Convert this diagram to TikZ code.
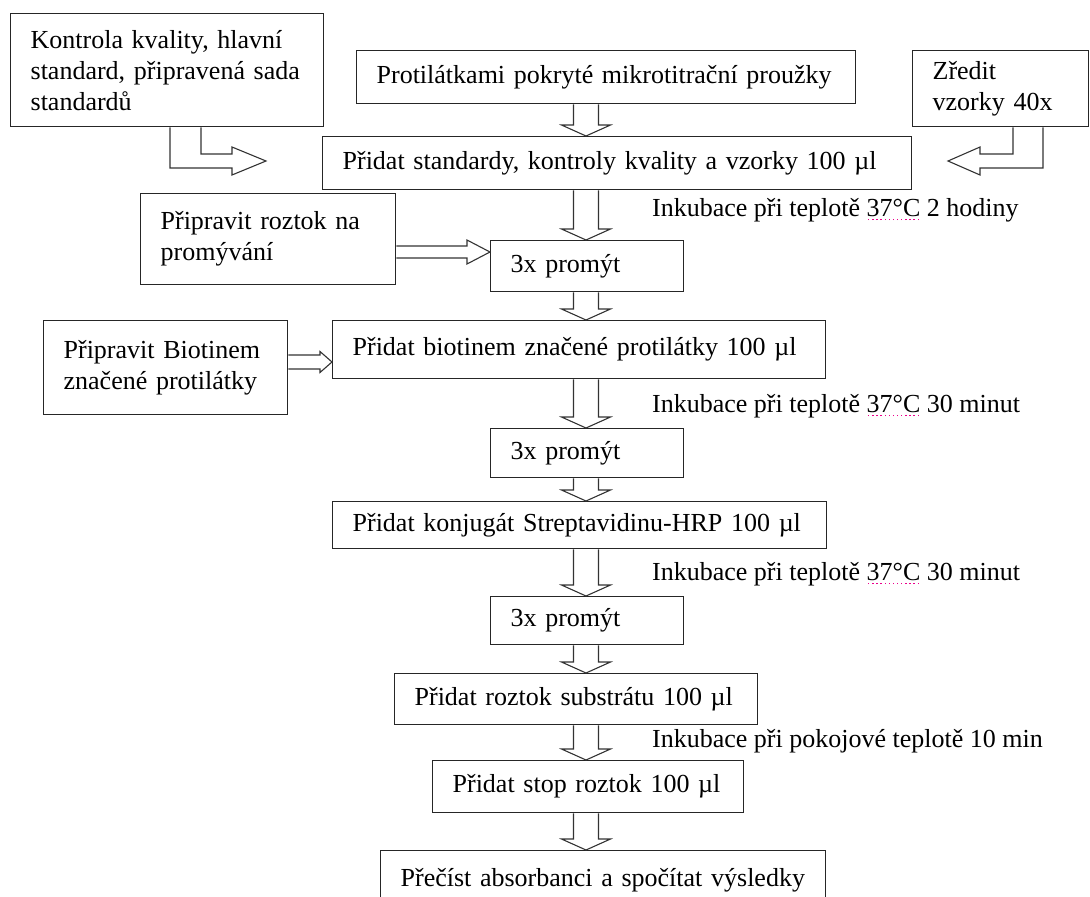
\documentclass[tikz,border=0pt]{standalone}
\usepackage{fontspec}
\setmainfont{Liberation Serif}
\usetikzlibrary{calc}

\tikzset{
  stepbox/.style={draw=black!85,line width=1.3pt,anchor=north west,align=left,
    inner xsep=21pt,inner ysep=0pt,font=\fontsize{26}{31}\selectfont},
  inclabel/.style={anchor=base west,inner sep=0pt,font=\fontsize{26}{31}\selectfont},
  hollowarrow/.style={draw=black!80,line width=1.1pt,line join=miter}
}

% dotted spelling mark under a word
\newcommand\spellchk[1]{\setbox0=\hbox{#1}\rlap{\color{magenta}\raisebox{-4pt}[0pt][0pt]{\hbox to \wd0{\xleaders\hbox to 4pt{\hss\rule{1.3pt}{1.3pt}\hss}\hfil}}}\box0\relax}

% hollow arrow down the main column
\newcommand\vblk[2]{\draw[hollowarrow] let \p1=(#1.south), \p2=(#2.north), \p3=(axis) in
  (\x3-12.5pt,\y1) -- (\x3-12.5pt,\y2+11pt) -- (\x3-24.5pt,\y2+11pt) -- (\x3,\y2)
  -- (\x3+24.5pt,\y2+11pt) -- (\x3+12.5pt,\y2+11pt) -- (\x3+12.5pt,\y1);}

% hollow arrow to the right: from, to, level, shaft, head, length
\newcommand\hblk[6]{\draw[hollowarrow] let \p1=(#1.east), \p2=(#2.west), \p3=(#3) in
  (\x1,\y3+#4pt) -- (\x2-#6pt,\y3+#4pt) -- (\x2-#6pt,\y3+#5pt) -- (\x2,\y3)
  -- (\x2-#6pt,\y3-#5pt) -- (\x2-#6pt,\y3-#4pt) -- (\x1,\y3-#4pt);}

\begin{document}
\begin{tikzpicture}[x=1pt,y=-1pt]
  \useasboundingbox (0,0) rectangle (1090,897);
  \clip (0,0) rectangle (1090,897);

  \foreach \n/\x/\y/\w/\h/\t in {
    kontrola/10/13/313/113/{Kontrola kvality, hlavní\\standard, připravená sada\\standardů},
    pokryte/356/50/499/53/{Protilátkami pokryté mikrotitrační proužky},
    zredit/912/50/176/76/{Zředit\\vzorky 40x},
    pridstd/322/136/589/53/{Přidat standardy, kontroly kvality a vzorky 100 µl},
    roztok/140/193/255/91/{Připravit roztok na\\promývání},
    prom1/490/240/193/51/{3x promýt},
    biopr/43/320/244/94/{Připravit Biotinem\\značené protilátky},
    biot/332/320/493/58/{Přidat biotinem značené protilátky 100 µl},
    prom2/490/428/193/49/{3x promýt},
    konj/332/501/494/47/{Přidat konjugát Streptavidinu-HRP 100 µl},
    prom3/490/596/193/48/{3x promýt},
    subst/394/673/363/51/{Přidat roztok substrátu 100 µl},
    stop/432/760/311/52/{Přidat stop roztok 100 µl},
    cist/380/850/445/60/{Přečíst absorbanci a spočítat výsledky}}{
    \pgfmathsetmacro\tw{\w-40}
    \node[stepbox,text width=\tw pt,minimum height=\h pt,inner xsep=20pt] (\n) at (\x,\y) {\t};
  }

  \node[inclabel] (inc1) at (652,216) {Inkubace při teplotě \spellchk{37°C} 2 hodiny};
  \node[inclabel] (inc2) at (652,412) {Inkubace při teplotě \spellchk{37°C} 30 minut};
  \node[inclabel] (inc3) at (652,580) {Inkubace při teplotě \spellchk{37°C} 30 minut};
  \node[inclabel] (inc4) at (652,747) {Inkubace při pokojové teplotě 10 min};

  \coordinate (axis) at (586,0);
  \coordinate (kin) at (266,161);
  \coordinate (zin) at (948,161);
  \coordinate (rlev) at (0,252);
  \coordinate (blev) at (0,362);

  \vblk{pokryte}{pridstd}
  \vblk{pridstd}{prom1}
  \vblk{prom1}{biot}
  \vblk{biot}{prom2}
  \vblk{prom2}{konj}
  \vblk{konj}{prom3}
  \vblk{prom3}{subst}
  \vblk{subst}{stop}
  \vblk{stop}{cist}

  \hblk{roztok}{prom1}{rlev}{6}{12}{23}
  \hblk{biopr}{biot}{blev}{7}{10.5}{12}

  \draw[hollowarrow] let \p1=(kontrola.south), \p2=(kin) in
    (\x2-96pt,\y1) -- (\x2-96pt,\y2-7pt) -- (\x2-34pt,\y2-7pt) -- (\x2-34pt,\y2-14pt)
    -- (kin) -- (\x2-34pt,\y2+14pt) -- (\x2-34pt,\y2+7pt) -- (\x2-65pt,\y2+7pt) -- (\x2-65pt,\y1);
  \draw[hollowarrow] let \p1=(zredit.south), \p2=(zin) in
    (\x2+65pt,\y1) -- (\x2+65pt,\y2+7pt) -- (\x2+32pt,\y2+7pt) -- (\x2+32pt,\y2+14pt)
    -- (zin) -- (\x2+32pt,\y2-14pt) -- (\x2+32pt,\y2-7pt) -- (\x2+95pt,\y2-7pt) -- (\x2+95pt,\y1);
\end{tikzpicture}
\end{document}
